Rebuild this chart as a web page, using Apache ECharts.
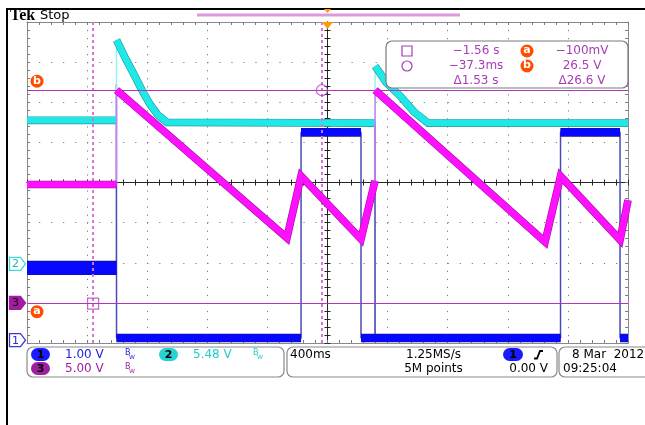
<!DOCTYPE html>
<html><head><meta charset="utf-8">
<script src="https://cdn.jsdelivr.net/npm/echarts@6/dist/echarts.min.js"></script>
<style>html,body{margin:0;padding:0;background:#fff;overflow:hidden}#c{width:645px;height:425px}</style>
</head><body><div id="c"></div>
<script>
// ---- data (time in ms relative to trigger, vertical position in screen divisions) ----
const timeRange = [-2000, 2000];   // 10 div x 400 ms
const timePerDiv = 400;
const divRange = [-4, 4];
// Channel 1 (blue) trace
const ch1Points = [
  [-2000, -2.13], [-1405, -2.13], [-1405, 2.45], [-1404, -3.875],
  [-176, -3.875], [-176, 1.25], [223, 1.25], [223, -3.875],
  [316, -3.875], [316, 1.55], [317, -3.875], [1551, -3.875],
  [1551, 1.25], [1947, 1.25], [1947, -3.875], [2000, -3.875]
];
// Channel 2 (cyan) trace
const ch2Points = [
  [-2000, 1.55], [-1405, 1.55], [-1404, 3.55], [-1349, 3.13], [-1296, 2.75],
  [-1236, 2.31], [-1183, 1.96], [-1129, 1.68], [-1069, 1.50], [316, 1.48],
  [317, 2.90], [349, 2.73], [389, 2.50], [483, 2.16], [576, 1.76], [669, 1.48], [2000, 1.48]
];
// Channel 3 (magenta) trace
const ch3Points = [
  [-2000, -0.05], [-1405, -0.05], [-1404, 2.30], [-270, -1.38], [-176, 0.16],
  [223, -1.41], [316, 0.04], [317, 2.30], [1448, -1.48], [1551, 0.16],
  [1947, -1.43], [2000, -0.44]
];
// channel ground reference positions (div)
const groundDiv = [-3.93, -2.03, -3.0];
const chLabels = ['1', '2', '3'];
// cursors
const cursorTimes = [-1560, -37.3];          // ms
const cursorVolts = [-0.1, 26.5];            // V on ch3
const ch3VoltsPerDiv = 5;
const cursorReadout = [
  ['\u22121.56 s', 'a', '\u2212100mV'],
  ['\u221237.3ms', 'b', '26.5 V'],
  ['\u03941.53 s', '', '\u039426.6 V']
];
const chScales = ['1.00 V', '5.48 V', '5.00 V'];
const timebase = '400ms', sampleRate = '1.25MS/s', recordLen = '5M points', trigLevel = '0.00 V';
const dateText = '8 Mar  2012', timeText = '09:25:04';

// ---- helpers ----
const cursorDiv = cursorVolts.map(v => groundDiv[2] + v / ch3VoltsPerDiv);
function splitRuns(pts) {
  const runs = []; let cur = null;
  for (let i = 1; i < pts.length; i++) {
    const a = pts[i - 1], b = pts[i];
    if (b[0] - a[0] > 1.5) { if (!cur) { cur = [a]; runs.push(cur); } cur.push(b); }
    else cur = null;
  }
  return runs;
}
function traceSeries(pts, thinColor, dark, bright, widthFn, z) {
  const out = [{
    type: 'line', data: pts, symbol: 'none', silent: true, z: z,
    lineStyle: { color: thinColor, width: 1.5 }
  }];
  splitRuns(pts).forEach((run, i) => {
    const w = widthFn(i);
    out.push({ type: 'line', data: run, symbol: 'none', silent: true, z: z,
      lineStyle: { color: dark, width: w + 1.2, join: 'miter' } });
    out.push({ type: 'line', data: run, symbol: 'none', silent: true, z: z,
      lineStyle: { color: bright, width: w, join: 'miter' } });
  });
  return out;
}
const FONT = '"DejaVu Sans", sans-serif';
function T(text, x, y, fill, opt) {
  opt = opt || {};
  const al = opt.align || 'left';
  return { type: 'text', x: x, y: y, z: opt.z || 110, silent: true,
    style: { text: text, fill: fill, font: opt.font || ('12px ' + FONT),
      align: al, verticalAlign: 'middle', textAlign: al, textVerticalAlign: 'middle' } };
}
function pill(x, y, w, h, fill, label) {
  return [
    { type: 'rect', z: 102, silent: true, shape: { x: x, y: y, width: w, height: h, r: h / 2 }, style: { fill: fill } },
    T(label, x + w / 2, y + h / 2 + 0.5, '#000', { align: 'center', font: 'bold 11px ' + FONT })
  ];
}
function bw(x, y, color) {
  return [
    T('B', x, y - 2, color, { font: '8px ' + FONT }),
    T('W', x + 4, y + 2.5, color, { font: '6px ' + FONT })
  ];
}

// ---- axes ----
function xAx(extra) {
  return Object.assign({ type: 'value', min: timeRange[0], max: timeRange[1], interval: timePerDiv,
    axisLabel: { show: false }, splitLine: { show: false } }, extra);
}
function yAx(extra) {
  return Object.assign({ type: 'value', min: divRange[0], max: divRange[1], interval: 1,
    axisLabel: { show: false }, splitLine: { show: false } }, extra);
}
const borderLine = { color: '#8a8a8a', width: 1 };
const tickStyle = { color: '#7a7a7a', width: 1 };
const centerLine = { color: '#262626', width: 1 };

const series = [].concat(
  traceSeries(ch1Points, '#4a4ab8', '#10108a', '#0808ff', i => (i === 0 ? 13 : 7.5), 3),
  traceSeries(ch2Points, '#8ff5f5', '#2a9a9a', '#1ee8e8', () => 6.5, 4),
  traceSeries(ch3Points, '#d080f0', '#a010a0', '#ff10ff', () => 6.5, 5),
  [{
    type: 'scatter', z: 10, silent: true,
    data: [
      { value: [cursorTimes[0], cursorDiv[0]], symbol: 'rect' },
      { value: [cursorTimes[1], cursorDiv[1]], symbol: 'circle' }
    ],
    symbolSize: 11,
    itemStyle: { color: 'rgba(0,0,0,0)', borderColor: '#b040c0', borderWidth: 1.2 },
    markLine: {
      silent: true, symbol: 'none', animation: false, label: { show: false },
      data: [
        { xAxis: cursorTimes[0], lineStyle: { color: '#d874d8', width: 2, type: [3, 3] } },
        { xAxis: cursorTimes[1], lineStyle: { color: '#d874d8', width: 2, type: [3, 3] } },
        { yAxis: cursorDiv[0], lineStyle: { color: '#b035b8', width: 1, type: 'solid' } },
        { yAxis: cursorDiv[1], lineStyle: { color: '#b035b8', width: 1, type: 'solid' } }
      ]
    }
  }]
);

const option = {
  animation: false,
  backgroundColor: '#fff',
  grid: { left: 27, top: 22, width: 601, height: 321, containLabel: false, outerBoundsMode: 'none' },
  xAxis: [
    xAx({ position: 'bottom', axisLine: { onZero: false, lineStyle: borderLine },
      axisTick: { show: true, inside: true, length: 3, lineStyle: tickStyle },
      minorTick: { show: true, splitNumber: 5, length: 3, lineStyle: tickStyle },
      splitLine: { show: true, lineStyle: { color: '#7c7c7c', width: 1, type: [1.2, 6.825] } } }),
    xAx({ position: 'top', axisLine: { onZero: false, lineStyle: borderLine },
      axisTick: { show: true, inside: true, length: 3, lineStyle: tickStyle },
      minorTick: { show: true, splitNumber: 5, length: 3, lineStyle: tickStyle } }),
    xAx({ position: 'bottom', axisLine: { onZero: true, onZeroAxisIndex: 0, lineStyle: centerLine },
      axisTick: { show: true, inside: true, length: 3, lineStyle: centerLine },
      minorTick: { show: true, splitNumber: 5, length: 3, lineStyle: centerLine } }),
    xAx({ position: 'bottom', axisLine: { onZero: true, onZeroAxisIndex: 0, lineStyle: centerLine },
      axisTick: { show: true, inside: false, length: 3, lineStyle: centerLine },
      minorTick: { show: true, splitNumber: 5, length: 3, lineStyle: centerLine } })
  ],
  yAxis: [
    yAx({ position: 'left', axisLine: { onZero: false, lineStyle: borderLine },
      axisTick: { show: true, inside: true, length: 3, lineStyle: tickStyle },
      minorTick: { show: true, splitNumber: 5, length: 3, lineStyle: tickStyle },
      splitLine: { show: true, lineStyle: { color: '#7c7c7c', width: 1, type: [1.2, 10.82] } } }),
    yAx({ position: 'right', axisLine: { onZero: false, lineStyle: borderLine },
      axisTick: { show: true, inside: true, length: 3, lineStyle: tickStyle },
      minorTick: { show: true, splitNumber: 5, length: 3, lineStyle: tickStyle } }),
    yAx({ position: 'left', axisLine: { onZero: true, onZeroAxisIndex: 0, lineStyle: centerLine },
      axisTick: { show: true, inside: true, length: 3, lineStyle: centerLine },
      minorTick: { show: true, splitNumber: 5, length: 3, lineStyle: centerLine } }),
    yAx({ position: 'left', axisLine: { onZero: true, onZeroAxisIndex: 0, lineStyle: centerLine },
      axisTick: { show: true, inside: false, length: 3, lineStyle: centerLine },
      minorTick: { show: true, splitNumber: 5, length: 3, lineStyle: centerLine } })
  ],
  series: series
};

const chart = echarts.init(document.getElementById('c'), null, { renderer: 'canvas' });
chart.setOption(option);

// ---- on-screen chrome ----
const px = v => chart.convertToPixel({ xAxisIndex: 0 }, v);
const py = v => chart.convertToPixel({ yAxisIndex: 0 }, v);
const G = [];
G.push({ type: 'rect', z: 100, silent: true, shape: { x: 6, y: 8, width: 639, height: 2 }, style: { fill: '#000' } });
G.push({ type: 'rect', z: 100, silent: true, shape: { x: 6, y: 8, width: 2, height: 417 }, style: { fill: '#000' } });
G.push(T('Tek', 10, 16, '#000', { font: 'bold 16px "Liberation Serif", serif' }));
G.push(T('Stop', 40, 16, '#000', { font: '13px ' + FONT }));
G.push({ type: 'rect', z: 100, silent: true, shape: { x: 197, y: 13.5, width: 263, height: 3 }, style: { fill: '#dc9adc' } });
const tx0 = px(0);
G.push({ type: 'polygon', z: 101, silent: true, shape: { points: [[tx0 - 3.5, 9], [tx0 + 3.5, 9], [tx0, 13]] }, style: { fill: '#ff9a00' } });
G.push({ type: 'polygon', z: 101, silent: true, shape: { points: [[tx0 - 5.5, 22], [tx0 + 5.5, 22], [tx0, 29]] }, style: { fill: '#ff9a00' } });

// channel ground markers
const markerStyles = [
  { fill: '#fff', stroke: '#3a3ad0', text: '#2a2ad8' },
  { fill: '#fff', stroke: '#40d8d8', text: '#1cb8b8' },
  { fill: '#a01ea0', stroke: '#a01ea0', text: '#1a001a' }
];
groundDiv.forEach((g, i) => {
  const y = py(g), s = markerStyles[i];
  G.push({ type: 'polygon', z: 100, silent: true,
    shape: { points: [[9.5, y - 6.5], [20.5, y - 6.5], [25.5, y], [20.5, y + 6.5], [9.5, y + 6.5]] },
    style: { fill: s.fill, stroke: s.stroke, lineWidth: 1.3 } });
  G.push(T(chLabels[i], 15.5, y + 0.5, s.text, { align: 'center', font: '11px ' + FONT }));
});

// cursor a/b tags
const ORANGE = '#ff4d00';
function tag(x, y, ch) {
  return [
    { type: 'circle', z: 102, silent: true, shape: { cx: x, cy: y, r: 6.5 }, style: { fill: ORANGE } },
    T(ch, x, y - 0.5, '#fff', { align: 'center', font: 'bold 11px ' + FONT })
  ];
}
G.push.apply(G, tag(37, py(cursorDiv[1]) - 9, 'b'));
G.push.apply(G, tag(37, py(cursorDiv[0]) + 8, 'a'));

// measurement box
const PUR = '#a83cb8';
G.push({ type: 'rect', z: 100, silent: true, shape: { x: 386, y: 41, width: 242, height: 47, r: 6 }, style: { fill: '#fff', stroke: '#7a7a7a', lineWidth: 1.2 } });
G.push({ type: 'rect', z: 101, silent: true, shape: { x: 402, y: 46, width: 10, height: 10 }, style: { fill: 'none', stroke: PUR, lineWidth: 1.2 } });
G.push({ type: 'circle', z: 101, silent: true, shape: { cx: 407, cy: 66, r: 5 }, style: { fill: 'none', stroke: PUR, lineWidth: 1.2 } });
const rowY = [51, 66, 81];
cursorReadout.forEach((r, i) => {
  G.push(T(r[0], 476, rowY[i], PUR, { align: 'center' }));
  if (r[1]) G.push.apply(G, tag(527, rowY[i], r[1]));
  G.push(T(r[2], 582, rowY[i], PUR, { align: 'center' }));
});

// status bar
const boxStyle = { fill: '#fff', stroke: '#8a8a8a', lineWidth: 1.2 };
G.push({ type: 'rect', z: 100, silent: true, shape: { x: 27, y: 347, width: 257, height: 30, r: 6 }, style: boxStyle });
G.push({ type: 'rect', z: 100, silent: true, shape: { x: 287, y: 347, width: 270, height: 30, r: 6 }, style: boxStyle });
G.push({ type: 'rect', z: 100, silent: true, shape: { x: 559, y: 347, width: 100, height: 30, r: 6 }, style: boxStyle });
const L1 = 354.5, L2 = 368.5;
const BLUE = '#1a1aff', CYAN = '#26d2d2', MAG = '#a01ea0';
G.push.apply(G, pill(31, 348, 19, 13, BLUE, '1'));
G.push(T(chScales[0], 65, L1, '#2020e8'));
G.push.apply(G, bw(125, L1, '#2020e8'));
G.push.apply(G, pill(159, 348, 19, 13, CYAN, '2'));
G.push(T(chScales[1], 193, L1, '#22cccc'));
G.push.apply(G, bw(253, L1, '#22cccc'));
G.push.apply(G, pill(31, 362, 19, 13, MAG, '3'));
G.push(T(chScales[2], 65, L2, MAG));
G.push.apply(G, bw(125, L2, MAG));
G.push(T(timebase, 290, L1, '#000'));
G.push(T(sampleRate, 433.5, L1, '#000', { align: 'center' }));
G.push(T(recordLen, 433.5, L2, '#000', { align: 'center' }));
G.push.apply(G, pill(503, 348, 20, 13, BLUE, '1'));
G.push({ type: 'polyline', z: 101, silent: true, shape: { points: [[534, 358.5], [537, 358.5], [540, 351], [543, 351]] }, style: { stroke: '#000', lineWidth: 1.8, fill: 'none' } });
G.push(T(trigLevel, 548, L2, '#000', { align: 'right' }));
G.push(T(dateText, 572, L1, '#000'));
G.push(T(timeText, 563, L2, '#000'));

chart.setOption({ graphic: { elements: G } });
</script>
</body></html>
